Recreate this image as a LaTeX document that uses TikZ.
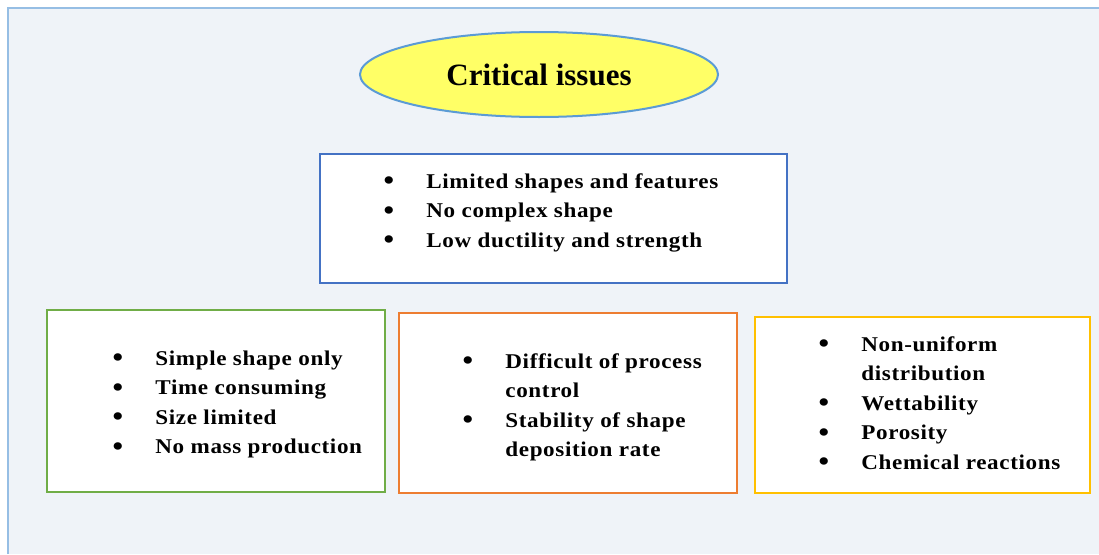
\documentclass[tikz,border=0pt]{standalone}
\usepackage{graphicx}
\usepackage{fontspec}
\setmainfont{Liberation Serif}
\newfontfamily\listfont[FakeStretch=1.1,LetterSpace=3]{Liberation Serif}
\usepackage{tikz}
\usetikzlibrary{shapes.geometric,positioning}

\definecolor{panelbg}{RGB}{239,243,248}
\definecolor{panelline}{RGB}{150,190,228}
\definecolor{titlefill}{RGB}{255,255,102}
\definecolor{titleline}{RGB}{91,155,213}
\definecolor{boxblue}{RGB}{68,114,196}
\definecolor{boxgreen}{RGB}{112,173,71}
\definecolor{boxorange}{RGB}{237,125,49}
\definecolor{boxyellow}{RGB}{255,192,0}

\newcommand{\bul}{\makebox[42.7pt][l]{\raisebox{-1.5pt}{\scalebox{1.3}{\textbullet}}}}
\newcommand{\contd}{\hspace*{42.7pt}}

\tikzset{
  issuebox/.style={draw, line width=2pt, fill=white, inner sep=0pt},
  issuelist/.style={anchor=base west, inner sep=0pt, font=\fontsize{21}{29.5}\listfont\bfseries},
}

\begin{document}
\begin{tikzpicture}[x=1pt,y=-1pt]

\useasboundingbox (0,0) rectangle (1099,554);
\fill[white] (0,0) rectangle (1099,554);
\fill[panelbg] (8,8) rectangle (1099,554); % panel
\draw[panelline, line width=1.5pt] (8,554) -- (8,8) -- (1099,8);

\node[ellipse, draw=titleline, line width=2pt, fill=titlefill, minimum width=358pt, minimum height=85pt, inner sep=0pt,
      font=\fontsize{31}{36}\selectfont\bfseries] (title) at (539,74.5) {Critical issues}; % title

% boxes
\node[issuebox, draw=boxblue, minimum width=467pt, minimum height=129pt] (topbox) at (553.5,218.5) {};
\node[issuebox, draw=boxgreen, minimum width=338pt, minimum height=182pt] (leftbox) at (216,401) {};
\node[issuebox, draw=boxorange, minimum width=338pt, minimum height=180pt] (midbox) at (568,403) {};
\node[issuebox, draw=boxyellow, minimum width=335pt, minimum height=176pt] (rightbox) at (922.5,405) {};

% lists
\node[issuelist] (toplist) at (383.5,188) {\begin{tabular}[t]{@{}l@{}}
  \bul Limited shapes and features\\
  \bul No complex shape\\
  \bul Low ductility and strength
\end{tabular}};

\node[issuelist] (leftlist) at (112.5,365) {\begin{tabular}[t]{@{}l@{}}
  \bul Simple shape only\\
  \bul Time consuming\\
  \bul Size limited\\
  \bul No mass production
\end{tabular}};

\node[issuelist] (midlist) at (462.5,368) {\begin{tabular}[t]{@{}l@{}}
  \bul Difficult of process\\
  \contd control\\
  \bul Stability of shape\\
  \contd deposition rate
\end{tabular}};

\node[issuelist] (rightlist) at (818.5,351) {\begin{tabular}[t]{@{}l@{}}
  \bul Non-uniform\\
  \contd distribution\\
  \bul Wettability\\
  \bul Porosity\\
  \bul Chemical reactions
\end{tabular}};

\end{tikzpicture}
\end{document}
